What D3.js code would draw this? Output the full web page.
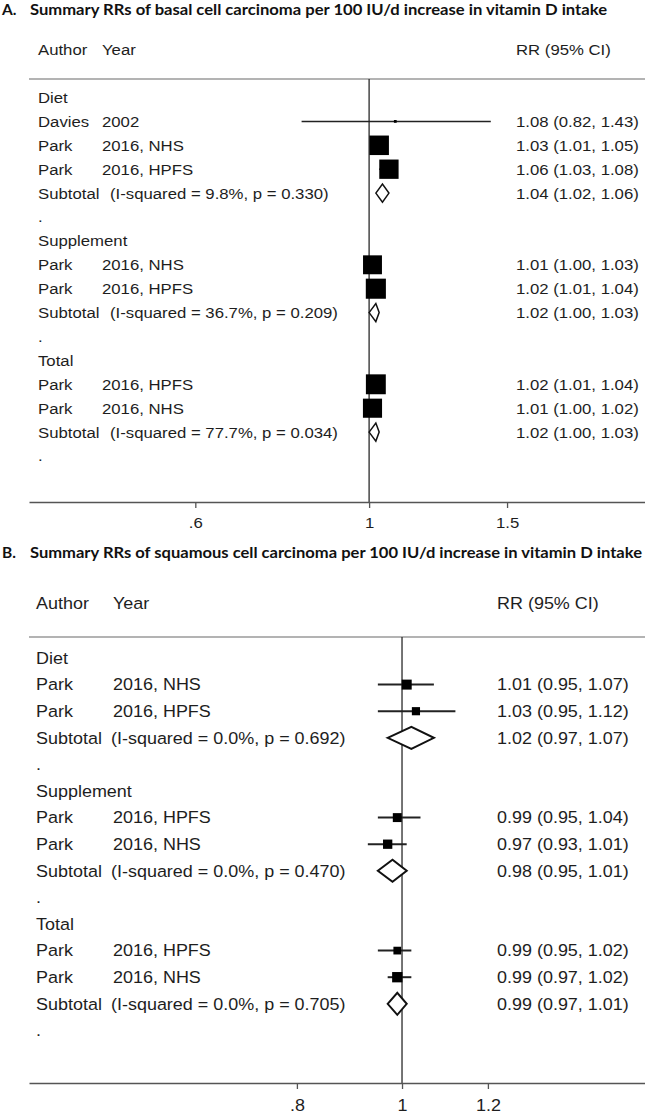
<!DOCTYPE html>
<html>
<head>
<meta charset="utf-8">
<script src="https://cdn.jsdelivr.net/npm/d3@7"></script>
<style>
  body { margin: 0; background: #fff; }
  svg { display: block; }
</style>
</head>
<body>
<div class="chart"></div>
<script>
const width = 645;
const height = 1114;

                                        // DATA //
const groupNames = ["Diet", "Supplement", "Total"];

// panel A : basal cell carcinoma
const bccTitle = "Summary RRs of basal cell carcinoma per 100 IU/d increase in vitamin D intake";
const bccAuthors = [["Davies", "Park", "Park"], ["Park", "Park"], ["Park", "Park"]];
const bccStudies = [["2002", "2016, NHS", "2016, HPFS"], ["2016, NHS", "2016, HPFS"], ["2016, HPFS", "2016, NHS"]];
const bccRR = [[1.08, 1.03, 1.06], [1.01, 1.02], [1.02, 1.01]];
const bccLower = [[0.82, 1.01, 1.03], [1.00, 1.01], [1.01, 1.00]];
const bccUpper = [[1.43, 1.05, 1.08], [1.03, 1.04], [1.04, 1.02]];
const bccWeight = [[1, 50, 49], [47, 53], [52, 48]];
const bccSubRR = [1.04, 1.02, 1.02];
const bccSubLower = [1.02, 1.00, 1.00];
const bccSubUpper = [1.06, 1.03, 1.03];
const bccISq = ["9.8%", "36.7%", "77.7%"];
const bccP = ["0.330", "0.209", "0.034"];
const bccTicks = [0.6, 1, 1.5];
const bccAxisRange = [0.368, 2.25];

// panel B : squamous cell carcinoma
const sccTitle = "Summary RRs of squamous cell carcinoma per 100 IU/d increase in vitamin D intake";
const sccAuthors = [["Park", "Park"], ["Park", "Park"], ["Park", "Park"]];
const sccStudies = [["2016, NHS", "2016, HPFS"], ["2016, HPFS", "2016, NHS"], ["2016, HPFS", "2016, NHS"]];
const sccRR = [[1.01, 1.03], [0.99, 0.97], [0.99, 0.99]];
const sccLower = [[0.95, 0.95], [0.95, 0.93], [0.95, 0.97]];
const sccUpper = [[1.07, 1.12], [1.04, 1.01], [1.02, 1.02]];
const sccWeight = [[60, 40], [48, 52], [36, 64]];
const sccSubRR = [1.02, 0.98, 0.99];
const sccSubLower = [0.97, 0.95, 0.97];
const sccSubUpper = [1.07, 1.01, 1.01];
const sccISq = ["0.0%", "0.0%", "0.0%"];
const sccP = ["0.692", "0.470", "0.705"];
const sccTicks = [0.8, 1, 1.2];
const sccAxisRange = [0.453, 1.675];

                                        // SVG //
const svg = d3.select(".chart")
    .append("svg")
    .attr("width", width)
    .attr("height", height)
    .attr("viewBox", [0, 0, width, height]);

svg.append("rect").attr("width", width).attr("height", height).attr("fill", "#fff");

const f2 = d3.format(".2f");
const tickFmt = d => d === 1 ? "1" : String(d).replace(/^0/, "");

// build the rows of one panel (group header, studies, subtotal, blank ".")
function buildRows(authors, studies, rr, lo, hi, w, subRR, subLo, subHi, isq, p) {
    let rows = [];
    groupNames.forEach((g, i) => {
        rows.push({type: "group", label: g});
        authors[i].forEach((a, j) => {
            rows.push({type: "study", author: a, study: studies[i][j],
                rr: rr[i][j], lo: lo[i][j], hi: hi[i][j], w: w[i][j]});
        });
        rows.push({type: "sub", rr: subRR[i], lo: subLo[i], hi: subHi[i],
            note: `(I-squared = ${isq[i]}, p = ${p[i]})`});
        rows.push({type: "dot"});
    });
    return rows;
}

function drawPanel(rows, opt) {
    const g = svg.append("g");
    const x = d3.scaleLog().domain(opt.range).range([29, 645]);
    const y = d3.scaleLinear().domain([0, rows.length - 1]).range([opt.row0, opt.row0 + opt.step * (rows.length - 1)]);
    const box = d3.scaleSqrt().domain([0, 100]).range([0, opt.boxMax]);

    const txt = (sel, tx, ty, s, anchor) => sel.append("text")
        .attr("transform", `translate(${tx},${ty}) scale(${opt.sx},1)`)
        .attr("dy", "0.35em")
        .attr("text-anchor", anchor || "start")
        .attr("font-family", "'Liberation Sans', Arial, sans-serif")
        .attr("font-size", opt.font)
        .attr("fill", "#1e1e1e")
        .text(s);

    // title
    g.append("text")
        .attr("x", 2).attr("y", opt.titleY)
        .attr("font-family", "Lato, 'Open Sans', sans-serif")
        .attr("font-weight", "bold")
        .attr("font-size", 15.5)
        .attr("fill", "#111")
        .text(opt.letter);
    g.append("text")
        .attr("x", 30).attr("y", opt.titleY)
        .attr("font-family", "Lato, 'Open Sans', sans-serif")
        .attr("font-weight", "bold")
        .attr("font-size", 15.5)
        .attr("fill", "#111")
        .attr("textLength", opt.titleLen)
        .attr("lengthAdjust", "spacingAndGlyphs")
        .text(opt.title);

    // header
    txt(g, opt.colAuthor, opt.headerY, "Author");
    txt(g, opt.colYear, opt.headerY, "Year");
    txt(g, opt.colRR, opt.headerY, "RR (95% CI)");

    // separator
    g.append("line")
        .attr("x1", 29).attr("x2", 645)
        .attr("y1", opt.sepY).attr("y2", opt.sepY)
        .attr("stroke", "#9a9a9a").attr("stroke-width", 1.5);

    // null line
    g.append("line")
        .attr("x1", x(1)).attr("x2", x(1))
        .attr("y1", opt.sepY).attr("y2", opt.axisY)
        .attr("stroke", "#2a2a2a").attr("stroke-width", 1.3);

    // text columns
    rows.forEach((r, i) => {
        const yy = y(i);
        if (r.type === "group") txt(g, opt.colAuthor, yy, r.label);
        if (r.type === "dot") txt(g, opt.colAuthor, yy, ".");
        if (r.type === "study") {
            txt(g, opt.colAuthor, yy, r.author);
            txt(g, opt.colYear, yy, r.study);
        }
        if (r.type === "sub") {
            txt(g, opt.colAuthor, yy, "Subtotal");
            txt(g, opt.colParen, yy, r.note);
        }
        if (r.type === "study" || r.type === "sub")
            txt(g, opt.colRR, yy, `${f2(r.rr)} (${f2(r.lo)}, ${f2(r.hi)})`);
    });

    // confidence intervals and boxes
    const studies = rows.map((r, i) => ({...r, i})).filter(r => r.type === "study");
    g.append("g").selectAll("line")
        .data(studies)
        .join("line")
        .attr("x1", d => x(d.lo)).attr("x2", d => x(d.hi))
        .attr("y1", d => y(d.i)).attr("y2", d => y(d.i))
        .attr("stroke", "#222").attr("stroke-width", opt.ciW);
    g.append("g").selectAll("rect")
        .data(studies)
        .join("rect")
        .attr("x", d => x(d.rr) - box(d.w) / 2)
        .attr("y", d => y(d.i) - box(d.w) / 2)
        .attr("width", d => box(d.w))
        .attr("height", d => box(d.w))
        .attr("fill", "#000");

    // subtotal diamonds
    const subs = rows.map((r, i) => ({...r, i})).filter(r => r.type === "sub");
    g.append("g").selectAll("path")
        .data(subs)
        .join("path")
        .attr("d", d => {
            const yy = y(d.i), h = opt.diamondH;
            return `M${x(d.lo)},${yy}L${x(d.rr)},${yy - h}L${x(d.hi)},${yy}L${x(d.rr)},${yy + h}Z`;
        })
        .attr("fill", "#fff")
        .attr("stroke", "#111")
        .attr("stroke-width", opt.ciW);

    // x axis
    const axis = g.append("g")
        .attr("transform", `translate(0,${opt.axisY})`)
        .call(d3.axisBottom(x).tickValues(opt.ticks).tickFormat(tickFmt).tickSize(6).tickSizeOuter(0));
    axis.select(".domain").attr("stroke", "#555").attr("stroke-width", 1.5);
    axis.selectAll(".tick line").attr("stroke", "#555").attr("stroke-width", 1.3);
    axis.selectAll(".tick text")
        .attr("y", opt.labelOff)
        .attr("dy", "0.35em")
        .attr("transform", `scale(${opt.sx},1)`)
        .attr("font-family", "'Liberation Sans', Arial, sans-serif")
        .attr("font-size", opt.font)
        .attr("fill", "#1e1e1e");
}

                                        // DRAW //
const rowsA = buildRows(bccAuthors, bccStudies, bccRR, bccLower, bccUpper, bccWeight,
    bccSubRR, bccSubLower, bccSubUpper, bccISq, bccP);
drawPanel(rowsA, {
    letter: "A.", title: bccTitle, titleY: 15, titleLen: 577,
    range: bccAxisRange, ticks: bccTicks,
    row0: 97.5, step: 23.9, headerY: 50, sepY: 79, axisY: 502, labelOff: 21,
    font: 15.5, sx: 1.08,
    colAuthor: 38, colYear: 102, colParen: 110, colRR: 516,
    boxMax: 27.6, diamondH: 9, ciW: 1.5
});

const rowsB = buildRows(sccAuthors, sccStudies, sccRR, sccLower, sccUpper, sccWeight,
    sccSubRR, sccSubLower, sccSubUpper, sccISq, sccP);
drawPanel(rowsB, {
    letter: "B.", title: sccTitle, titleY: 558, titleLen: 612,
    range: sccAxisRange, ticks: sccTicks,
    row0: 658, step: 26.6, headerY: 603, sepY: 637, axisY: 1083, labelOff: 22,
    font: 16.8, sx: 1.07,
    colAuthor: 36, colYear: 113, colParen: 111, colRR: 497,
    boxMax: 12.9, diamondH: 11, ciW: 2
});
</script>
</body>
</html>
